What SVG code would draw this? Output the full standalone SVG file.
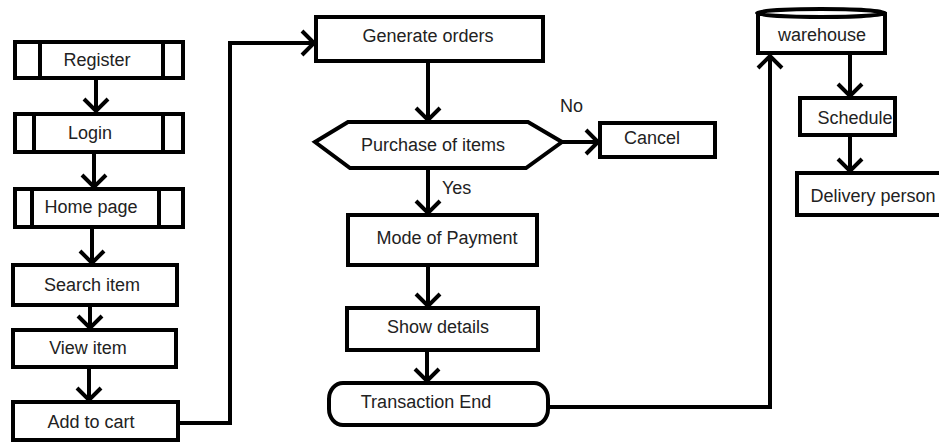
<svg xmlns="http://www.w3.org/2000/svg" width="939" height="443" viewBox="0 0 939 443">
  <style>
    .box { fill: #fff; stroke: #000; stroke-width: 4; }
    .bar { fill: none; stroke: #000; stroke-width: 4; }
    .lbl { font-family: "Liberation Sans", Arial, sans-serif; font-size: 18px; fill: #222; text-anchor: middle; }
    .note { font-family: "Liberation Sans", Arial, sans-serif; font-size: 18px; fill: #222; }
    .edge { fill: none; stroke: #000; stroke-width: 4; }
  </style>
  <defs>
    <marker id="vee" markerUnits="userSpaceOnUse" markerWidth="30" markerHeight="30" viewBox="-16 -15 20 30" refX="0" refY="0" orient="auto">
      <path d="M-12,-12 L0,0 L-12,12" fill="none" stroke="#000" stroke-width="4"/>
    </marker>
  </defs>
  <rect width="939" height="443" fill="#fff"/>

  <!-- connectors -->
  <g id="connectors" marker-end="url(#vee)">
    <path class="edge" d="M96,78 V111"/>
    <path class="edge" d="M94,152 V187"/>
    <path class="edge" d="M92,227 V263"/>
    <path class="edge" d="M90,305 V328"/>
    <path class="edge" d="M89,367 V400"/>
    <path class="edge" d="M177,423 H230 V43 H314"/>
    <path class="edge" d="M428,61 V120"/>
    <path class="edge" d="M562,142 H598"/>
    <path class="edge" d="M428,168 V213"/>
    <path class="edge" d="M428,265 V306"/>
    <path class="edge" d="M427,350 V381"/>
    <path class="edge" d="M548,407 H770 V56"/>
    <path class="edge" d="M850,53 V96"/>
    <path class="edge" d="M850,135 V171"/>
  </g>

  <!-- left column -->
  <g id="register">
    <rect class="box" x="15" y="42" width="168" height="36"/>
    <path class="bar" d="M40,42 V78 M163,42 V78"/>
    <text class="lbl" x="97" y="66">Register</text>
  </g>
  <g id="login">
    <rect class="box" x="15" y="114" width="168" height="38"/>
    <path class="bar" d="M34,114 V152 M163,114 V152"/>
    <text class="lbl" x="90" y="139">Login</text>
  </g>
  <g id="home-page">
    <rect class="box" x="15" y="189" width="168" height="38"/>
    <path class="bar" d="M32,189 V227 M159,189 V227"/>
    <text class="lbl" x="91" y="213">Home page</text>
  </g>
  <g id="search-item">
    <rect class="box" x="13" y="265" width="164" height="40"/>
    <text class="lbl" x="92" y="291">Search item</text>
  </g>
  <g id="view-item">
    <rect class="box" x="13" y="330" width="163" height="37"/>
    <text class="lbl" x="88" y="354">View item</text>
  </g>
  <g id="add-to-cart">
    <rect class="box" x="13" y="402" width="165" height="38"/>
    <text class="lbl" x="91" y="428">Add to cart</text>
  </g>

  <!-- middle column -->
  <g id="generate-orders">
    <rect class="box" x="316" y="17" width="227" height="44"/>
    <text class="lbl" x="428" y="42">Generate orders</text>
  </g>
  <g id="purchase-of-items">
    <path class="box" d="M315,142 L348,122 H528 L562,142 L526,168 H350 Z"/>
    <text class="lbl" x="433" y="151">Purchase of items</text>
  </g>
  <text class="note" x="560" y="112">No</text>
  <text class="note" x="442" y="194">Yes</text>
  <g id="cancel">
    <rect class="box" x="600" y="123" width="115" height="34"/>
    <text class="lbl" x="652" y="144">Cancel</text>
  </g>
  <g id="mode-of-payment">
    <rect class="box" x="348" y="215" width="189" height="50"/>
    <text class="lbl" x="447" y="244">Mode of Payment</text>
  </g>
  <g id="show-details">
    <rect class="box" x="347" y="308" width="191" height="42"/>
    <text class="lbl" x="438" y="333">Show details</text>
  </g>
  <g id="transaction-end">
    <rect class="box" x="329" y="383" width="219" height="42" rx="14" ry="16"/>
    <text class="lbl" x="426" y="408">Transaction End</text>
  </g>

  <!-- right column -->
  <g id="warehouse">
    <rect class="box" x="758" y="14" width="127" height="39"/>
    <ellipse cx="821" cy="13" rx="64" ry="4" fill="#fff" stroke="#000" stroke-width="4"/>
    <text class="lbl" x="822" y="41">warehouse</text>
  </g>
  <g id="schedule">
    <rect class="box" x="800" y="98" width="95" height="37"/>
    <text class="lbl" x="855" y="124">Schedule</text>
  </g>
  <g id="delivery-person">
    <rect class="box" x="797" y="173" width="150" height="42"/>
    <text class="lbl" x="873" y="202">Delivery person</text>
  </g>
</svg>
